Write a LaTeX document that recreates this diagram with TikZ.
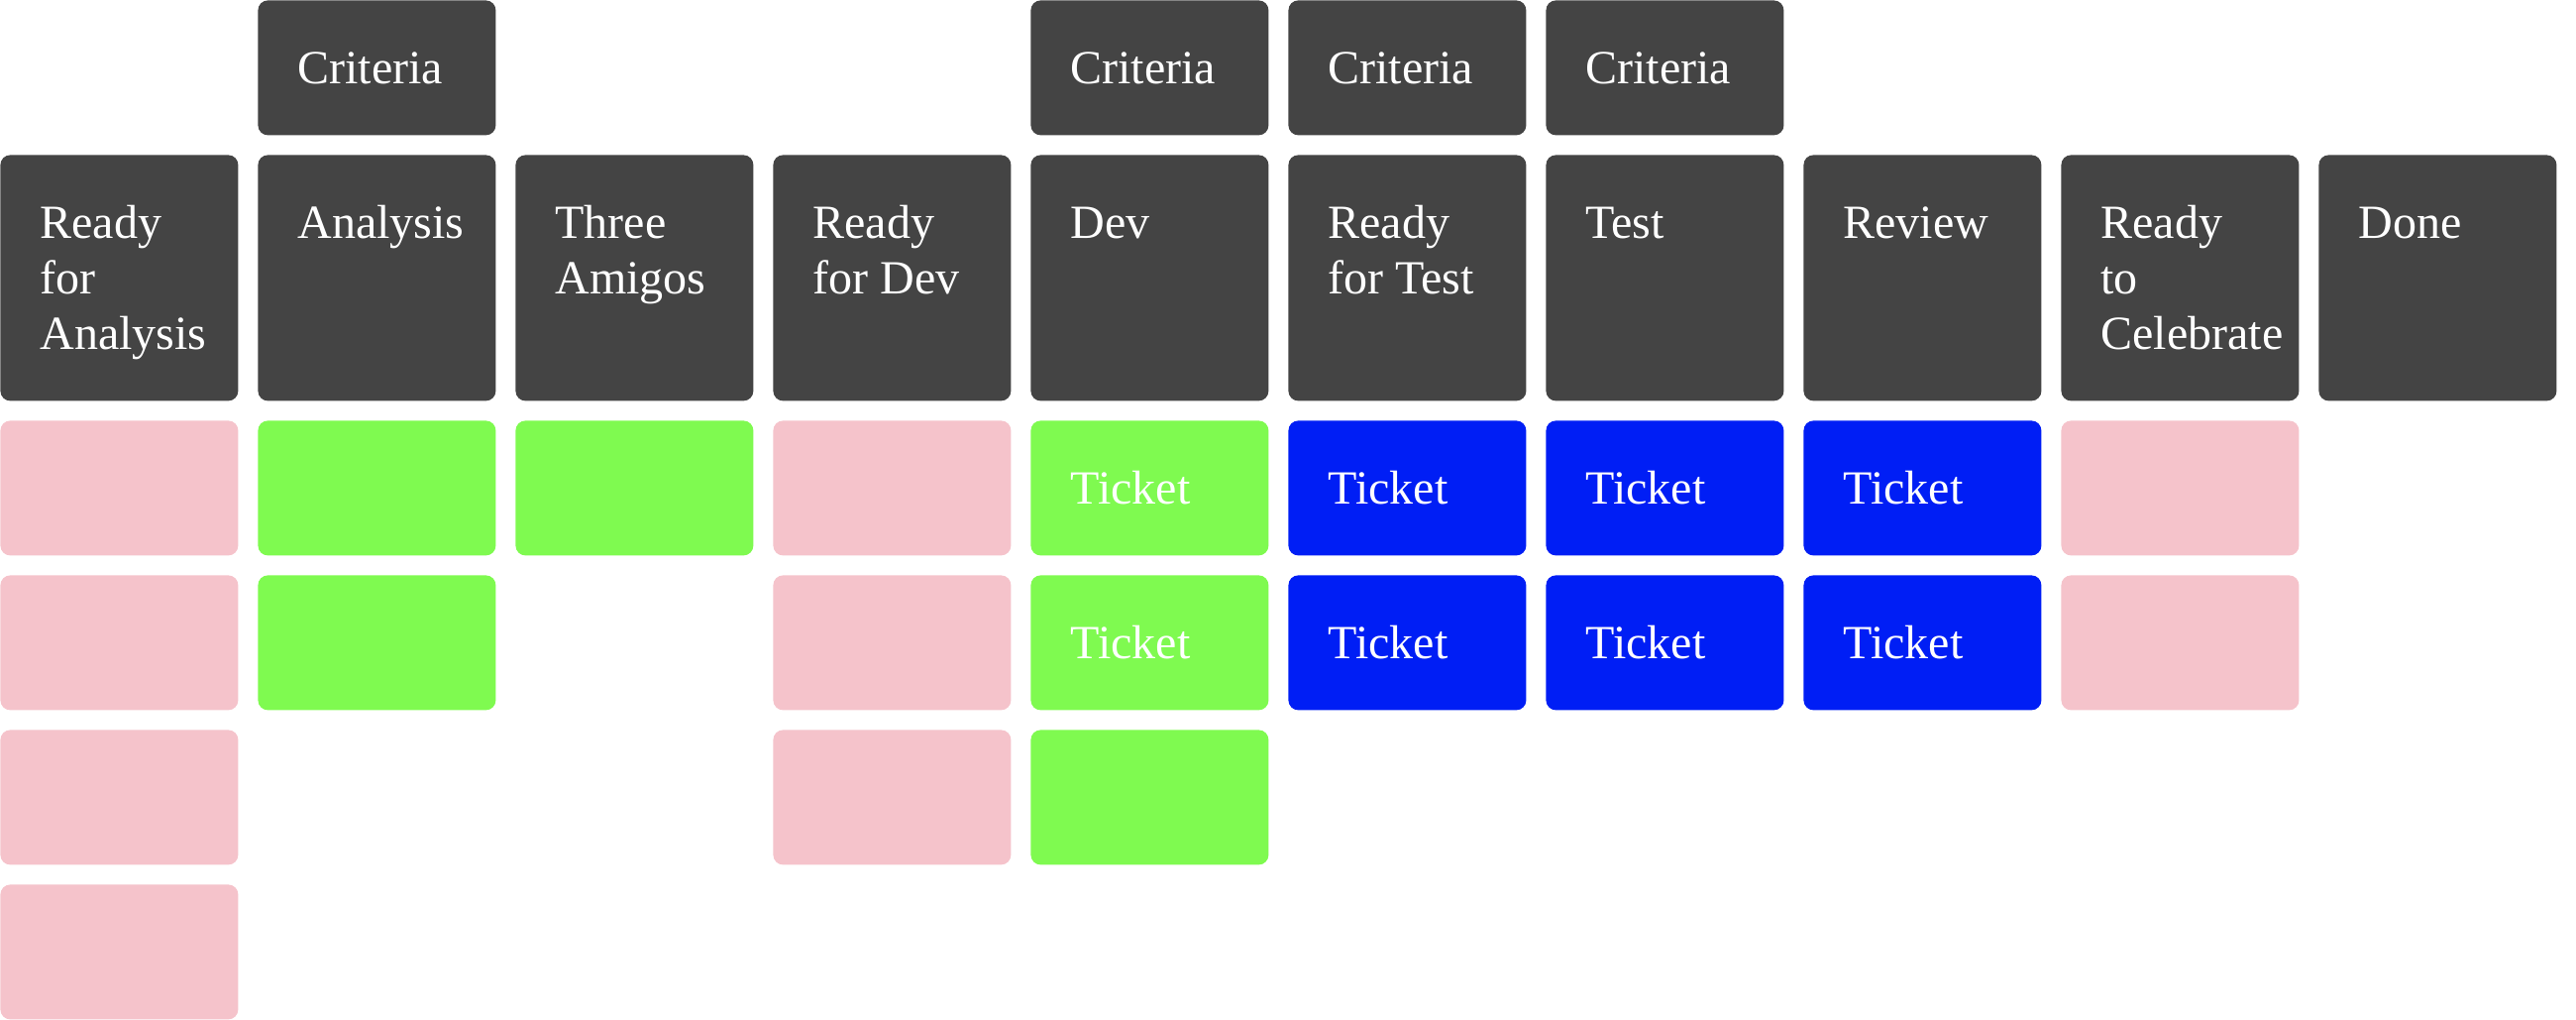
\documentclass[tikz,border=0pt]{standalone}
\usepackage{fontspec}
\setmainfont{Liberation Serif}
\definecolor{hdr}{HTML}{444444}
\definecolor{pinkc}{HTML}{F5C3CB}
\definecolor{greenc}{HTML}{7FFA50}
\definecolor{bluec}{HTML}{001EF5}
\tikzset{
  box/.style={rectangle, rounded corners=5pt, draw=none, inner sep=0pt, anchor=north west, minimum width=120pt},
  crit/.style={box, fill=hdr, minimum height=68pt},
  head/.style={box, fill=hdr, minimum height=124pt},
  card/.style={box, minimum height=68pt},
  lbl/.style={anchor=base west, inner sep=0pt, text=white, font=\fontsize{24pt}{28pt}\selectfont},
}
\begin{document}
\begin{tikzpicture}[x=0.5pt,y=-0.5pt]
\useasboundingbox (0,0) rectangle (2600,1028);
% criteria
\foreach \c in {1,4,5,6} {
  \node[crit] (cr\c) at (260*\c,0) {};
  \node[lbl] (crt\c) at ([shift={(40,84)}]cr\c.north west) {Criteria};
}
% headers
\foreach \c/\t in {0/{Ready\\for\\Analysis},1/{Analysis},2/{Three\\Amigos},3/{Ready\\for Dev},4/{Dev},5/{Ready\\for Test},6/{Test},7/{Review},8/{Ready\\to\\Celebrate},9/{Done}} {
  \node[head] (h\c) at (260*\c,156) {};
  \node[lbl] (ht\c) at ([shift={(40,84)}]h\c.north west) {\parbox[t]{110pt}{\t}};
}
% cards
\foreach \c/\r/\col in {0/0/pinkc,0/1/pinkc,0/2/pinkc,0/3/pinkc,
  1/0/greenc,1/1/greenc,2/0/greenc,
  3/0/pinkc,3/1/pinkc,3/2/pinkc,
  4/0/greenc,4/1/greenc,4/2/greenc,
  5/0/bluec,5/1/bluec,6/0/bluec,6/1/bluec,7/0/bluec,7/1/bluec,
  8/0/pinkc,8/1/pinkc} {
  \node[card, fill=\col] (k\c-\r) at (260*\c,424+156*\r) {};
}
% ticket labels
\foreach \c/\r in {4/0,4/1,5/0,5/1,6/0,6/1,7/0,7/1} {
  \node[lbl] (kt\c-\r) at ([shift={(40,84)}]k\c-\r.north west) {Ticket};
}
\end{tikzpicture}
\end{document}
